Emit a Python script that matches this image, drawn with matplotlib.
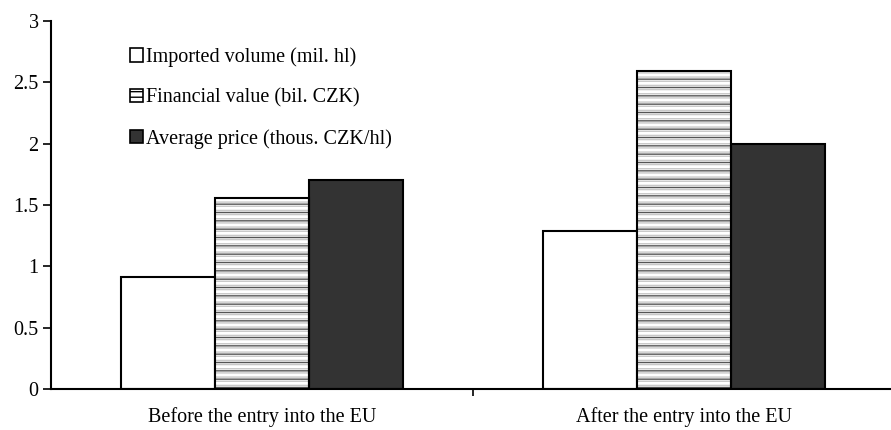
import matplotlib.pyplot as plt
from matplotlib.patches import Patch

plt.rcParams['font.family'] = ['Liberation Serif', 'DejaVu Serif']
plt.rcParams['hatch.linewidth'] = 1.0

categories = ['Before the entry into the EU', 'After the entry into the EU']
volume = [0.91, 1.29]
value = [1.56, 2.59]
price = [1.70, 2.00]
series_labels = ['Imported volume (mil. hl)', 'Financial value (bil. CZK)',
                 'Average price (thous. CZK/hl)']

fig = plt.figure(figsize=(8.91, 4.30), dpi=100)
ax = fig.add_axes([51 / 891, 41 / 430, 844 / 891, 368 / 430])

x = [0, 1]
w = 0.223

# imported volume - white bars
ax.bar([i - w for i in x], volume, w, facecolor='white', edgecolor='black', linewidth=1.5, zorder=2)
# financial value - horizontal lines, light and dark grey alternating, black outline
ax.bar(x, value, w, facecolor='white', edgecolor='#c8c8c8', hatch='----', linewidth=0, zorder=2)
ax.bar(x, value, w, fill=False, edgecolor='#555555', hatch='--', linewidth=0, zorder=2)
ax.bar(x, value, w, fill=False, edgecolor='black', linewidth=1.5, zorder=3)
# average price - dark bars
ax.bar([i + w for i in x], price, w, facecolor='#333333', edgecolor='black', linewidth=1.5, zorder=2)

ax.set_xlim(-0.5, 1.5)
ax.set_ylim(0, 3)
ax.set_yticks([0, 0.5, 1, 1.5, 2, 2.5, 3])
ax.set_yticklabels(['0', '0.5', '1', '1.5', '2', '2.5', '3'])
ax.set_xticks(x)
ax.set_xticklabels(categories)
ax.set_xticks([0.5], minor=True)
ax.tick_params(axis='x', which='major', length=0, pad=13, labelsize=14.5)
ax.tick_params(axis='x', which='minor', length=5, width=1.2, direction='out')
ax.tick_params(axis='y', length=6, width=1.2, direction='out', labelsize=14.5, pad=3)

for s in ['top', 'right']:
    ax.spines[s].set_visible(False)
ax.spines['left'].set_linewidth(1.5)
ax.spines['bottom'].set_linewidth(1.5)

handles = [
    Patch(facecolor='white', edgecolor='black', linewidth=1.2),
    Patch(facecolor='white', edgecolor='black', hatch='---', linewidth=1.2),
    Patch(facecolor='#333333', edgecolor='black', linewidth=1.2),
]
ax.legend(handles, series_labels, loc='upper left', bbox_to_anchor=(0.094, 0.928),
          borderaxespad=0, borderpad=0,
          frameon=False, fontsize=14.5, handlelength=0.65, handleheight=0.65,
          handletextpad=0.15, labelspacing=1.05)

fig.savefig('out.png', dpi=100)
